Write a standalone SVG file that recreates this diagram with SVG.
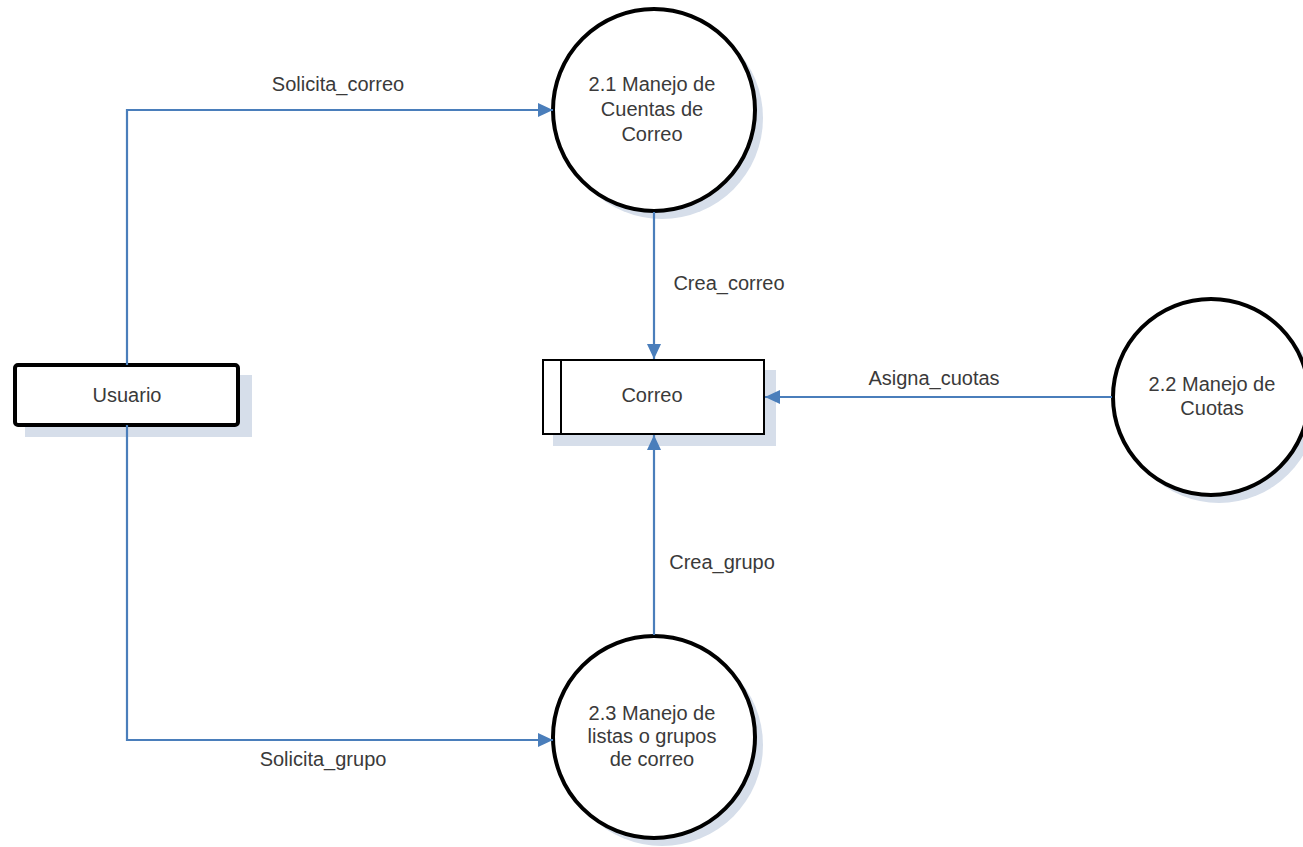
<svg xmlns="http://www.w3.org/2000/svg" width="1303" height="847" viewBox="0 0 1303 847">
  <style>
    text { font-family: "Liberation Sans", Arial, sans-serif; font-size: 20px; fill: #3a3a3a; text-anchor: middle; }
    .shadow { fill: #d6deea; stroke: none; }
    .proc { fill: #ffffff; stroke: #000000; stroke-width: 4; }
    .flow { fill: none; stroke: #4a7ebb; stroke-width: 2.2; }
  </style>
  <defs>
    <marker id="arrow" viewBox="0 0 15 14" refX="15" refY="7" markerWidth="15" markerHeight="14" markerUnits="userSpaceOnUse" orient="auto">
      <path d="M0,0 L15,7 L0,14 Z" fill="#4a7ebb"/>
    </marker>
  </defs>
  <rect width="1303" height="847" fill="#ffffff"/>

  <g id="usuario">
    <rect class="shadow" x="25" y="375" width="227" height="62"/>
    <rect x="15" y="365" width="223" height="60" rx="3" fill="#ffffff" stroke="#000000" stroke-width="4"/>
    <text x="127" y="402">Usuario</text>
  </g>

  <g id="correo">
    <rect class="shadow" x="553" y="370" width="223" height="76"/>
    <rect x="543" y="360" width="221" height="74" fill="#ffffff" stroke="#000000" stroke-width="2"/>
    <line x1="561" y1="360" x2="561" y2="434" stroke="#000000" stroke-width="2"/>
    <text x="652" y="402">Correo</text>
  </g>

  <g id="proc-2-1">
    <circle class="shadow" cx="662" cy="118" r="101"/>
    <circle class="proc" cx="654" cy="110" r="101"/>
    <text x="652" y="91">2.1 Manejo de</text>
    <text x="652" y="116">Cuentas de</text>
    <text x="652" y="141">Correo</text>
  </g>

  <g id="proc-2-2">
    <circle class="shadow" cx="1219" cy="405" r="98"/>
    <circle class="proc" cx="1211" cy="397" r="98"/>
    <text x="1212" y="391">2.2 Manejo de</text>
    <text x="1212" y="415">Cuotas</text>
  </g>

  <g id="proc-2-3">
    <circle class="shadow" cx="662" cy="745" r="101"/>
    <circle class="proc" cx="654" cy="737" r="101"/>
    <text x="652" y="720">2.3 Manejo de</text>
    <text x="652" y="743">listas o grupos</text>
    <text x="652" y="766">de correo</text>
  </g>

  <g id="connectors">
    <path class="flow" d="M127,365 V110 H553" marker-end="url(#arrow)"/>
    <path class="flow" d="M127,425 V740 H553" marker-end="url(#arrow)"/>
    <path class="flow" d="M654,212 V359" marker-end="url(#arrow)"/>
    <path class="flow" d="M1112,397 H765" marker-end="url(#arrow)"/>
    <path class="flow" d="M654,635 V435" marker-end="url(#arrow)"/>
    <text x="338" y="91">Solicita_correo</text>
    <text x="729" y="290">Crea_correo</text>
    <text x="934" y="385">Asigna_cuotas</text>
    <text x="722" y="569">Crea_grupo</text>
    <text x="323" y="766">Solicita_grupo</text>
  </g>
</svg>
